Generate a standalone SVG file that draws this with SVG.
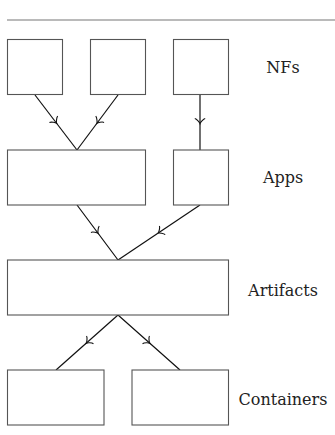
<svg xmlns="http://www.w3.org/2000/svg" width="335" height="435" viewBox="0 0 335 435">
<style>
.box{fill:#fff;stroke:#555;stroke-width:1.1}
.lbl{font-family:"DejaVu Serif","Liberation Serif",serif;font-size:16px;fill:#222;text-anchor:middle}
.edge{fill:none;stroke:#111;stroke-width:1.2;marker-mid:url(#to)}
</style>
<defs>
<marker id="to" markerUnits="userSpaceOnUse" orient="auto" overflow="visible" markerWidth="12" markerHeight="12" refX="0" refY="0">
<path d="M -4 5.2 C -3.6 3.2 0 0.3 1 0 C 0 -0.3 -3.6 -3.2 -4 -5.2" fill="none" stroke="#111" stroke-width="1.1"/>
</marker>
</defs>
<line x1="7" y1="20" x2="335" y2="20" stroke="#777" stroke-width="1.2"/>
<g id="connectors">
<path class="edge" d="M 35 95 L 56 122.5 L 77 150"/>
<path class="edge" d="M 118 95 L 97.5 122.5 L 77 150"/>
<path class="edge" d="M 200 95 L 200 122.5 L 200 150"/>
<path class="edge" d="M 77 205 L 97.5 232.5 L 118 260"/>
<path class="edge" d="M 200 205 L 159 232.5 L 118 260"/>
<path class="edge" d="M 118 315 L 87 342.5 L 56 370"/>
<path class="edge" d="M 118 315 L 149 342.5 L 180 370"/>
</g>
<g id="nf1"><rect class="box" x="7.5" y="39.5" width="55" height="55"/></g>
<g id="nf2"><rect class="box" x="90.5" y="39.5" width="55" height="55"/></g>
<g id="nf3"><rect class="box" x="173.5" y="39.5" width="55" height="55"/></g>
<g id="app1"><rect class="box" x="7.5" y="150" width="138" height="55"/></g>
<g id="app2"><rect class="box" x="173.5" y="150" width="55" height="55"/></g>
<g id="artifact"><rect class="box" x="7.5" y="260" width="221" height="55"/></g>
<g id="container1"><rect class="box" x="7.5" y="370" width="96.5" height="55"/></g>
<g id="container2"><rect class="box" x="132" y="370" width="96.5" height="55"/></g>
<g id="labels">
<text class="lbl" x="283" y="73">NFs</text>
<text class="lbl" x="283" y="183">Apps</text>
<text class="lbl" x="283" y="296">Artifacts</text>
<text class="lbl" x="283" y="405">Containers</text>
</g>
</svg>
